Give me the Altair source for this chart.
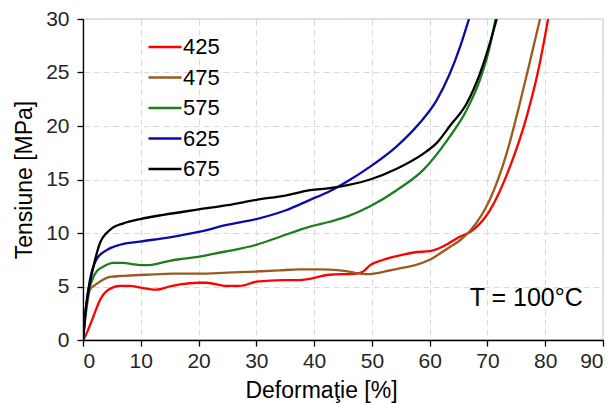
import altair as alt
import pandas as pd

# Stress-strain curves at T = 100 °C, one series per sample
series_names = ["425", "475", "575", "625", "675"]
series_colors = ["#FF0000", "#9A5B22", "#1E7D1E", "#0B0BA6", "#000000"]

x_425 = [0, 0.35, 1.0, 1.8, 2.9, 4.4, 6.4, 8.1, 9.5, 11, 12.7, 15, 16.8, 20, 21.4,
         24.9, 27.2, 30, 34.7, 37.5, 42.7, 47.4, 48.5, 49.7, 52, 54.8, 57.5, 60,
         62.5, 65.2, 67, 70.4, 73.9, 76.8, 78.8, 80.5]
y_425 = [0, 0.3, 1.1, 2.2, 3.7, 4.7, 5.05, 5.05, 4.95, 4.8, 4.7, 5.0, 5.2, 5.35, 5.35,
         5.05, 5.05, 5.45, 5.6, 5.6, 6.1, 6.2, 6.4, 7.0, 7.5, 7.9, 8.2, 8.3,
         8.8, 9.65, 10.1, 12.1, 16.2, 20.9, 25.2, 30]

x_475 = [0, 0.4, 1.2, 2.0, 2.9, 4.7, 7, 11, 15.6, 20, 25, 30, 34, 37.5, 41, 44.5,
         46.5, 47.9, 49.5, 51.4, 54.8, 57.5, 60, 63.5, 65.2, 67, 70.4, 73.3, 75.6,
         77.3, 79.1]
y_475 = [0, 2.0, 4.7, 5.1, 5.45, 5.9, 6.0, 6.1, 6.2, 6.2, 6.3, 6.4, 6.5, 6.6, 6.6, 6.5,
         6.35, 6.2, 6.15, 6.3, 6.7, 7.0, 7.5, 8.7, 9.3, 10.2, 13.1, 17.4, 22.1,
         25.9, 30]

x_575 = [0, 0.5, 1.0, 1.8, 2.5, 3.5, 5.2, 7.0, 8.5, 9.9, 11.6, 13.5, 15, 17.5, 20.2,
         23, 26, 30, 34.1, 39.3, 42.7, 46, 49.7, 54.3, 58.9, 63.2, 66.4, 68.7, 70.4,
         71.4]
y_575 = [0, 2.8, 4.5, 5.9, 6.5, 6.85, 7.2, 7.2, 7.1, 7.0, 7.0, 7.2, 7.4, 7.6, 7.8,
         8.1, 8.4, 8.9, 9.65, 10.6, 11.05, 11.6, 12.5, 14.0, 15.9, 18.8, 21.5, 24.3,
         27.4, 30]

x_625 = [0, 0.5, 1.2, 2.4, 4.1, 6.4, 9.9, 15, 20, 24.9, 30, 35, 39.3, 42.7, 46, 49.7,
         54.3, 58.3, 61.2, 63.5, 65.2, 66.8]
y_625 = [0, 3.0, 5.6, 7.6, 8.4, 8.9, 9.2, 9.6, 10.1, 10.75, 11.3, 12.1, 13.1, 13.9,
         14.9, 16.2, 18.1, 20.3, 22.4, 24.9, 27.3, 30]

x_675 = [0, 0.4, 1.0, 1.8, 2.9, 4.7, 7.0, 9.9, 13.9, 20, 25, 30, 35, 39.3, 42.7, 46,
         49.7, 54.3, 59.4, 61.2, 63.5, 66.4, 68.7, 70.4, 71.6]
y_675 = [0, 2.5, 4.8, 6.85, 9.0, 10.3, 10.9, 11.3, 11.7, 12.2, 12.6, 13.1, 13.5, 14.0,
         14.2, 14.5, 15.0, 16.0, 17.6, 18.4, 20.0, 22.1, 24.9, 27.7, 30]

x_ticks = [0, 10, 20, 30, 40, 50, 60, 70, 80, 90]
y_ticks = [0, 5, 10, 15, 20, 25, 30]

annotation = "T = 100°C"
annotation_x = [86.5]
annotation_y = [3.9]

curves = {
    "425": (x_425, y_425),
    "475": (x_475, y_475),
    "575": (x_575, y_575),
    "625": (x_625, y_625),
    "675": (x_675, y_675),
}

rows = []
for name in series_names:
    xs, ys = curves[name]
    for i, (xv, yv) in enumerate(zip(xs, ys)):
        rows.append({"sample": name, "strain": xv, "stress": yv, "order": i})
df = pd.DataFrame(rows)

FONT = "Liberation Sans"

x_enc = alt.X(
    "strain:Q",
    scale=alt.Scale(domain=[0, 90], nice=False),
    axis=alt.Axis(
        values=x_ticks,
        title="Deformaţie [%]",
        titleX=238,
        titleY=50,
        titleBaseline="middle",
    ),
)
y_enc = alt.Y(
    "stress:Q",
    scale=alt.Scale(domain=[0, 30], nice=False),
    axis=alt.Axis(
        values=y_ticks,
        title="Tensiune [MPa]",
        titleX=-59,
        titleY=160.5,
        titleBaseline="middle",
        titleAngle=-90,
    ),
)

lines = (
    alt.Chart(df)
    .mark_line(strokeWidth=2.3, interpolate="monotone", clip=True)
    .encode(
        x=x_enc,
        y=y_enc,
        order="order:Q",
        color=alt.Color(
            "sample:N",
            scale=alt.Scale(domain=series_names, range=series_colors),
            sort=series_names,
            legend=alt.Legend(
                title=None,
                orient="none",
                legendX=64,
                legendY=10,
                direction="vertical",
                symbolType="stroke",
                symbolSize=1089,
                symbolStrokeWidth=2.5,
                labelFontSize=22,
                labelFont=FONT,
                labelColor="#000000",
                labelOffset=0,
                rowPadding=1.5,
                padding=0,
            ),
        ),
    )
)

label = (
    alt.Chart(pd.DataFrame({"x": annotation_x, "y": annotation_y, "t": [annotation]}))
    .mark_text(align="right", baseline="middle", fontSize=25, font=FONT, color="#000000")
    .encode(x=alt.X("x:Q"), y=alt.Y("y:Q"), text="t:N")
)

chart = (
    alt.layer(lines, label)
    .properties(
        width=520,
        height=321,
        autosize=alt.AutoSizeParams(type="none"),
        padding={"left": 83, "top": 19, "right": 10, "bottom": 63},
        background="white",
    )
    .configure_view(stroke="#D9D9D9", strokeWidth=1.5)
    .configure_axis(
        labelFont=FONT,
        labelFontSize=21,
        labelColor="#262626",
        titleFont=FONT,
        titleFontSize=23,
        titleFontWeight="normal",
        titleColor="#000000",
        domainColor="#000000",
        domainWidth=1.3,
        tickColor="#000000",
        tickSize=6,
        tickWidth=1.3,
        gridColor="#D9D9D9",
        gridDash=[6, 4],
        gridWidth=1,
    )
    .configure_axisX(labelPadding=4)
    .configure_axisY(labelPadding=8)
)

chart.save("out.html", embed_options={"renderer": "svg", "actions": False})
